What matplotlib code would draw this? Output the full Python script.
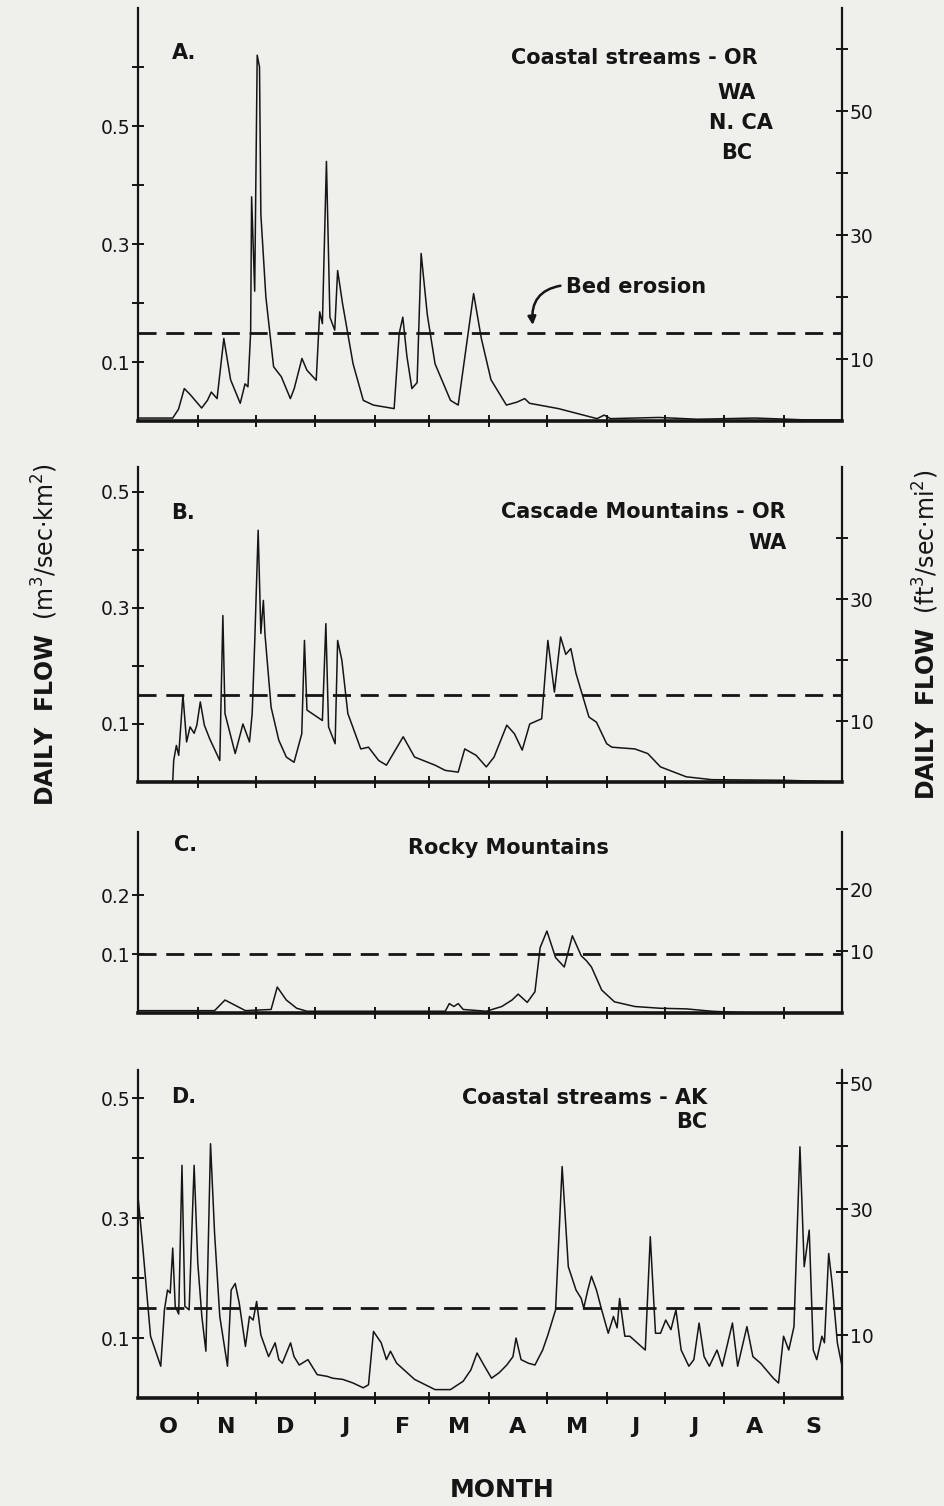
import numpy as np
import matplotlib
matplotlib.use("Agg")
from matplotlib import pyplot as plt

# water year, days counted from 1 October
MONTH_EDGES = [0, 31, 61, 92, 123, 151, 182, 212, 243, 273, 304, 335, 365]
MONTHS = ["O", "N", "D", "J", "F", "M", "A", "M", "J", "J", "A", "S"]

# m3/sec/km2 per ft3/sec/mi2, as drawn on the right hand scales
CONV = 0.0105

# A. Coastal streams - OR, WA, N. CA, BC
A_DAY = [0, 18, 21, 24, 27, 33, 36, 38, 41, 44.5, 48, 53, 55.5, 57, 58.4, 58.9, 60.5, 61.8, 63,
         63.7, 66.3, 70.3, 74.3, 79, 81, 85, 87.6, 92.4, 94.2, 95.6, 97.7, 99.5, 102, 103.5, 106,
         111.5, 116.8, 122, 132.8, 135.4, 137.3, 139.4, 142, 144.7, 146.8, 150, 154, 162, 166, 174,
         178, 183, 191, 196.5, 200.5, 203, 218, 238, 241.7, 245, 270, 290, 320, 345, 365]
A_Q = [0.005, 0.005, 0.02, 0.055, 0.045, 0.022, 0.035, 0.049, 0.038, 0.14, 0.07, 0.03, 0.063, 0.058,
       0.15, 0.38, 0.22, 0.62, 0.60, 0.35, 0.21, 0.092, 0.075, 0.038, 0.055, 0.106, 0.086, 0.069,
       0.185, 0.165, 0.44, 0.176, 0.154, 0.255, 0.2, 0.097, 0.035, 0.027, 0.021, 0.148, 0.176, 0.11,
       0.055, 0.065, 0.284, 0.18, 0.097, 0.035, 0.027, 0.216, 0.14, 0.07, 0.027, 0.032, 0.038, 0.03,
       0.021, 0.004, 0.01, 0.004, 0.006, 0.003, 0.005, 0.002, 0.002]

# B. Cascade Mountains - OR, WA
B_DAY = [0, 18, 18.5, 19.9, 21.1, 23.3, 25.2, 27, 29.1, 30.5, 32.3, 34.4, 37.1, 42.4, 44, 45.1, 50.4,
         54.4, 57.8, 59.2, 60.5, 62.3, 63.7, 65, 65.8, 69, 73, 76.9, 80.9, 84.9, 86.3, 87.6, 91.6,
         95.6, 97.4, 98.8, 102.2, 103.5, 105.7, 108.8, 115.5, 119.5, 124.8, 128.8, 137.5, 143.4, 154,
         159.3, 166, 169.4, 175.3, 180.6, 184.6, 191.2, 195.2, 199.2, 203.1, 207.2, 209.3, 212.5,
         215.9, 219.1, 221.8, 224.4, 227.1, 233.8, 237.7, 243, 245.7, 257.6, 264.3, 270.9, 284.2,
         297.5, 334.7, 365]
B_Q = [0, 0, 0.037, 0.063, 0.046, 0.15, 0.069, 0.095, 0.084, 0.098, 0.138, 0.098, 0.075, 0.037,
       0.287, 0.118, 0.049, 0.10, 0.069, 0.118, 0.239, 0.434, 0.256, 0.313, 0.256, 0.129, 0.072,
       0.043, 0.034, 0.083, 0.244, 0.124, 0.115, 0.106, 0.273, 0.095, 0.066, 0.244, 0.21, 0.118,
       0.057, 0.06, 0.037, 0.029, 0.078, 0.043, 0.029, 0.02, 0.017, 0.057, 0.046, 0.026, 0.043,
       0.098, 0.083, 0.055, 0.10, 0.106, 0.109, 0.244, 0.155, 0.25, 0.22, 0.23, 0.187, 0.112, 0.103,
       0.066, 0.06, 0.057, 0.049, 0.026, 0.009, 0.004, 0.003, 0.0]

# C. Rocky Mountains
C_DAY = [0, 39.7, 45.1, 55.7, 69, 72.2, 76.9, 82.3, 87.6, 159.3, 161.4, 163.8, 166, 168.6, 180.6,
         188.6, 193.9, 197.1, 201.8, 205.8, 208.5, 212, 216.5, 221, 225.2, 229.8, 232.4, 235.1,
         240.4, 247, 257.6, 270.9, 284.2, 297.5, 310.8, 324.1, 365]
C_Q = [0.004, 0.004, 0.022, 0.004, 0.006, 0.044, 0.022, 0.008, 0.003, 0.003, 0.016, 0.011, 0.016,
       0.006, 0.003, 0.011, 0.022, 0.032, 0.018, 0.036, 0.111, 0.139, 0.094, 0.078, 0.131, 0.097,
       0.089, 0.078, 0.039, 0.019, 0.011, 0.008, 0.007, 0.003, 0.001, 0.0, 0.0]

# D. Coastal streams - AK, BC
D_DAY = [0, 2.6, 6.5, 11.8, 13.7, 15.3, 16.7, 18, 19.3, 21.1, 22.8, 24.3, 26.5, 29.1, 31, 33.1,
         35.2, 37.6, 39.7, 42.4, 46.4, 48.3, 50.4, 52.5, 55.7, 57.8, 59.7, 61.5, 63.7, 67.7, 71.1,
         73, 74.8, 79.1, 80.9, 83.6, 88.1, 92.9, 98.2, 100.9, 106.2, 111.5, 116.8, 119.5, 122.1,
         126.1, 128.8, 130.9, 134.1, 143.4, 154, 162, 168.6, 172.6, 175.8, 179.3, 183.3, 187.2,
         191.2, 194.4, 196, 198.6, 202.4, 205.8, 209.8, 212.5, 216.5, 219.9, 223.1, 227.1, 229.8,
         231.1, 233.2, 235.1, 237.7, 240.4, 243.8, 246.5, 248.4, 249.7, 252.4, 255, 263, 265.6,
         268.3, 270.9, 273.6, 276.3, 278.9, 281.6, 285.6, 288.2, 290.9, 293.5, 296.2, 300.2, 302.9,
         308.2, 310.9, 315.7, 318.8, 322.8, 329.4, 332.1, 334.7, 337.4, 340.1, 343.2, 345.4, 348,
         350.1, 351.9, 354.6, 355.9, 358.1, 359.9, 362.6, 365]
D_Q = [0.336, 0.247, 0.103, 0.053, 0.147, 0.18, 0.175, 0.25, 0.153, 0.14, 0.388, 0.153, 0.147,
       0.388, 0.225, 0.136, 0.078, 0.424, 0.275, 0.136, 0.053, 0.18, 0.191, 0.158, 0.086, 0.136,
       0.13, 0.161, 0.105, 0.069, 0.092, 0.064, 0.058, 0.092, 0.069, 0.055, 0.064, 0.039, 0.036,
       0.033, 0.031, 0.025, 0.017, 0.022, 0.111, 0.092, 0.064, 0.078, 0.058, 0.031, 0.014, 0.014,
       0.028, 0.047, 0.075, 0.055, 0.033, 0.042, 0.055, 0.069, 0.10, 0.064, 0.058, 0.055, 0.08,
       0.105, 0.147, 0.386, 0.219, 0.18, 0.166, 0.15, 0.18, 0.203, 0.18, 0.147, 0.108, 0.136, 0.117,
       0.166, 0.103, 0.103, 0.08, 0.269, 0.108, 0.108, 0.13, 0.114, 0.147, 0.08, 0.053, 0.064, 0.125,
       0.069, 0.053, 0.08, 0.053, 0.125, 0.053, 0.119, 0.069, 0.058, 0.033, 0.025, 0.103, 0.08,
       0.119, 0.419, 0.219, 0.28, 0.08, 0.064, 0.103, 0.092, 0.241, 0.191, 0.092, 0.053]

# threshold for bed erosion in each region
THRESH = [0.15, 0.15, 0.10, 0.15]

LEFT_TICKS = [[0.1, 0.2, 0.3, 0.4, 0.5, 0.6], [0.1, 0.2, 0.3, 0.4, 0.5], [0.1, 0.2],
              [0.1, 0.2, 0.3, 0.4, 0.5]]
LEFT_LABELS = [["0.1", "", "0.3", "", "0.5", ""], ["0.1", "", "0.3", "", "0.5"], ["0.1", "0.2"],
               ["0.1", "", "0.3", "", "0.5"]]
RIGHT_TICKS = [[10, 20, 30, 40, 50, 60], [10, 20, 30, 40], [10, 20], [10, 20, 30, 40, 50]]
RIGHT_LABELS = [["10", "", "30", "", "50", ""], ["10", "", "30", ""], ["10", "20"],
                ["10", "", "30", "", "50"]]

W, H = 944, 1506
INK = "#151515"
PAPER = "#efefec"

plt.rcParams["font.family"] = ["DejaVu Sans"]

fig = plt.figure(figsize=(W / 100, H / 100), dpi=100, facecolor=PAPER)

def fx(x):
    return x / W

def fy(y):
    return 1 - y / H

# (top, bottom) of each panel in pixels, and the top of its left scale
PANELS = [(8, 421, 0.70), (467, 782, 0.543), (832, 1013, 0.307), (1070, 1398, 0.547)]
SERIES = [(A_DAY, A_Q), (B_DAY, B_Q), (C_DAY, C_Q), (D_DAY, D_Q)]

axes = []
for i, (top, bot, ymax) in enumerate(PANELS):
    ax = fig.add_axes([fx(138), fy(bot), fx(842) - fx(138), (bot - top) / H])
    ax.set_facecolor("none")
    day, q = SERIES[i]
    ax.plot(day, q, color=INK, lw=1.1)
    ax.axhline(THRESH[i], color=INK, lw=2.0, dashes=(6.5, 3.5))
    ax.set_xlim(0, 365)
    ax.set_ylim(0, ymax)
    for s in ["top", "right"]:
        ax.spines[s].set_visible(False)
    ax.spines["left"].set_linewidth(1.6)
    ax.spines["bottom"].set_linewidth(2.6)
    ax.spines["left"].set_color(INK)
    ax.spines["bottom"].set_color(INK)
    ax.set_yticks(LEFT_TICKS[i])
    ax.set_yticklabels(LEFT_LABELS[i])
    ax.set_xticks(MONTH_EDGES[1:-1])
    ax.set_xticklabels([])
    ax.tick_params(axis="both", which="major", direction="inout", length=9, width=1.4,
                   color=INK, labelsize=13.5, labelcolor=INK, pad=1)

    ax2 = ax.twinx()
    ax2.set_ylim(0, ymax / CONV)
    for s in ["top", "left", "bottom"]:
        ax2.spines[s].set_visible(False)
    ax2.spines["right"].set_linewidth(1.6)
    ax2.spines["right"].set_color(INK)
    ax2.set_yticks(RIGHT_TICKS[i])
    ax2.set_yticklabels(RIGHT_LABELS[i])
    ax2.tick_params(axis="y", direction="inout", length=9, width=1.4, color=INK,
                    labelsize=13.5, labelcolor=INK, pad=1)
    axes.append(ax)

# month letters under the last panel
axd = axes[3]
mids = [(a + b) / 2 for a, b in zip(MONTH_EDGES[:-1], MONTH_EDGES[1:])]
axd.set_xticks(mids, minor=True)
axd.set_xticklabels(MONTHS, minor=True, fontsize=16, fontweight="bold", color=INK)
axd.tick_params(axis="x", which="minor", length=0, pad=14)

# panel letters and titles
tkw = dict(fontsize=15, fontweight="bold", color=INK, va="center")
fig.text(fx(172), fy(53), "A.", ha="left", **tkw)
fig.text(fx(758), fy(58), "Coastal streams - OR", ha="right", **tkw)
fig.text(fx(737), fy(93), "WA", ha="center", **tkw)
fig.text(fx(741), fy(123), "N. CA", ha="center", **tkw)
fig.text(fx(737), fy(153), "BC", ha="center", **tkw)

fig.text(fx(171), fy(513), "B.", ha="left", **tkw)
fig.text(fx(786), fy(512), "Cascade Mountains - OR", ha="right", **tkw)
fig.text(fx(787), fy(543), "WA", ha="right", **tkw)

fig.text(fx(174), fy(845), "C.", ha="left", **tkw)
fig.text(fx(508), fy(848), "Rocky Mountains", ha="center", **tkw)

fig.text(fx(171), fy(1097), "D.", ha="left", **tkw)
fig.text(fx(707), fy(1098), "Coastal streams - AK", ha="right", **tkw)
fig.text(fx(707), fy(1122), "BC", ha="right", **tkw)

# bed erosion note with a hooked arrow
axa = axes[0]
axa.annotate("Bed erosion", xy=((534 - 141) / 1.92, (421 - 325) / 590),
             xytext=((567 - 141) / 1.92, (421 - 287) / 590),
             fontsize=15, fontweight="bold", color=INK, ha="left", va="center",
             arrowprops=dict(arrowstyle="-|>", color=INK, lw=1.8, mutation_scale=12,
                             shrinkA=2, shrinkB=0, connectionstyle="arc3,rad=0.5",
                             relpos=(0, 0.6)))

# axis titles
fig.text(fx(45), fy(635), r"$\mathbf{DAILY\ \ FLOW}$  (m$^3$/sec$\cdot$km$^2$)", rotation=90,
         ha="center", va="center", fontsize=17, color=INK)
fig.text(fx(926), fy(635), r"$\mathbf{DAILY\ \ FLOW}$  (ft$^3$/sec$\cdot$mi$^2$)", rotation=90,
         ha="center", va="center", fontsize=17, color=INK)
fig.text(fx(502), fy(1490), "MONTH", ha="center", va="center", fontsize=18, fontweight="bold",
         color=INK)

fig.savefig("out.png", dpi=100, facecolor=PAPER)
